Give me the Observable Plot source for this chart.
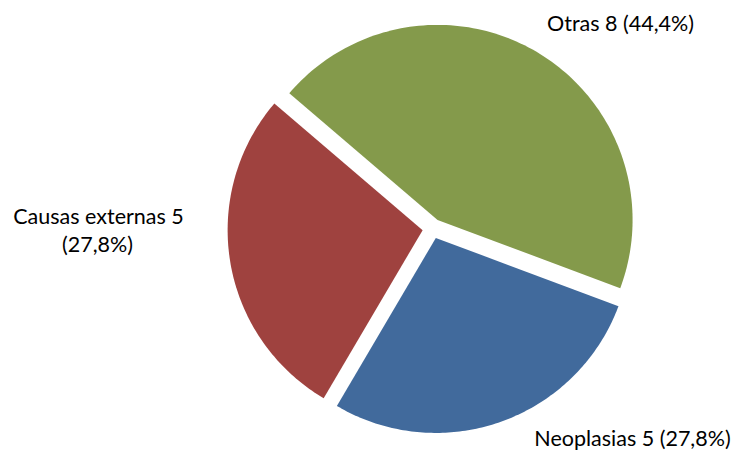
<!DOCTYPE html>
<html>
<head>
<meta charset="utf-8">
<script src="https://cdn.jsdelivr.net/npm/d3@7"></script>
<script src="https://cdn.jsdelivr.net/npm/@observablehq/plot@0.6"></script>
<style>
  html, body { margin: 0; padding: 0; background: #fff; }
  #chart svg { display: block; }
</style>
</head>
<body>
<div id="chart"></div>
<script>
// Causes of death, counts per group
const categories = ["Otras", "Neoplasias", "Causas externas"];
const counts = [8, 5, 5];
const sliceColors = ["#849a4b", "#416a9c", "#9f423f"];

// Pie geometry (pixels, pie centre at origin, y pointing up)
const W = 734, H = 452;
const cx = 432, cy = 228;      // pie centre on the page
const R = 195;                 // slice radius
const explode = 10;            // outward shift of each slice
const firstAngle = -49.5 * Math.PI / 180;

// Label anchors, relative to the pie centre (y up)
const labelPlacement = {
  "Otras": [{dx: 188, dy: 204}],
  "Neoplasias": [{dx: 200, dy: -211}],
  "Causas externas": [{dx: -334, dy: 11}, {dx: -335, dy: -17}]
};

const total = d3.sum(counts);
const rows = categories.map((c, i) => ({name: c, value: counts[i]}));
const arcs = d3.pie().sort(null).value(d => d.value)
  .startAngle(firstAngle).endAngle(firstAngle + 2 * Math.PI)(rows);

// Outline of each exploded slice: apex, then points along the rim
const outline = [];
for (const a of arcs) {
  const mid = (a.startAngle + a.endAngle) / 2;
  const ox = explode * Math.sin(mid), oy = explode * Math.cos(mid);
  outline.push({name: a.data.name, x: ox, y: oy});
  const steps = 120;
  for (let k = 0; k <= steps; k++) {
    const t = a.startAngle + (a.endAngle - a.startAngle) * k / steps;
    outline.push({name: a.data.name, x: ox + R * Math.sin(t), y: oy + R * Math.cos(t)});
  }
  outline.push({name: a.data.name, x: ox, y: oy});
}

// Label text: "Name n (pp,p%)"
const pct = v => (v / total * 100).toFixed(1).replace(".", ",") + "%";
const labels = [];
for (const a of arcs) {
  const name = a.data.name;
  const place = labelPlacement[name];
  const full = `${name} ${a.data.value} (${pct(a.data.value)})`;
  if (place.length === 1) {
    labels.push({text: full, x: place[0].dx, y: place[0].dy});
  } else {
    labels.push({text: `${name} ${a.data.value}`, x: place[0].dx, y: place[0].dy});
    labels.push({text: `(${pct(a.data.value)})`, x: place[1].dx, y: place[1].dy});
  }
}

const chart = Plot.plot({
  width: W,
  height: H,
  margin: 0,
  style: {background: "#fff", fontFamily: "Lato, 'Open Sans', sans-serif"},
  x: {domain: [-cx, W - cx], axis: null},
  y: {domain: [-(H - cy), cy], axis: null},
  color: {domain: categories, range: sliceColors},
  marks: [
    Plot.line(outline, {x: "x", y: "y", z: "name", fill: "name", stroke: "none", curve: "linear"}),
    Plot.text(labels, {x: "x", y: "y", text: "text", fontSize: 21.5, fill: "#000", textAnchor: "middle", lineAnchor: "middle"})
  ]
});
document.getElementById("chart").appendChild(chart);
</script>
</body>
</html>
